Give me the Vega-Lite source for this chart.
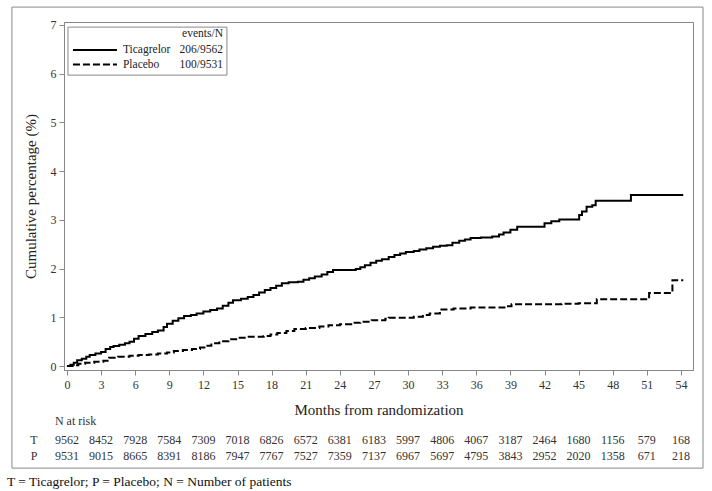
{
  "$schema": "https://vega.github.io/schema/vega-lite/v6.json",
  "width": 629,
  "height": 348,
  "autosize": {"type": "none"},
  "padding": {"left": 64, "top": 22, "right": 19, "bottom": 121},
  "background": "white",
  "config": {
    "font": "Liberation Serif, Times New Roman, serif",
    "view": {"stroke": "#888", "strokeWidth": 1},
    "text": {"font": "Liberation Serif, Times New Roman, serif"},
    "axis": {
      "grid": false,
      "domainColor": "#888",
      "tickColor": "#888",
      "tickSize": 5,
      "labelOverlap": false,
      "labelFont": "Liberation Serif, Times New Roman, serif",
      "labelFontSize": 12,
      "labelColor": "#333",
      "titleFont": "Liberation Serif, Times New Roman, serif",
      "titleFontSize": 15,
      "titleFontWeight": "normal",
      "titleColor": "#222"
    },
    "axisX": {"labelOverlap": false}
  },
  "datasets": {
    "km": [
      {"group": "Ticagrelor", "month": 0, "pct": 0},
      {"group": "Ticagrelor", "month": 0.3, "pct": 0.03},
      {"group": "Ticagrelor", "month": 0.6, "pct": 0.07},
      {"group": "Ticagrelor", "month": 0.9, "pct": 0.12},
      {"group": "Ticagrelor", "month": 1.3, "pct": 0.15},
      {"group": "Ticagrelor", "month": 1.7, "pct": 0.19},
      {"group": "Ticagrelor", "month": 2.0, "pct": 0.23},
      {"group": "Ticagrelor", "month": 2.5, "pct": 0.26},
      {"group": "Ticagrelor", "month": 3.0, "pct": 0.29},
      {"group": "Ticagrelor", "month": 3.4, "pct": 0.35},
      {"group": "Ticagrelor", "month": 3.8, "pct": 0.39},
      {"group": "Ticagrelor", "month": 4.1, "pct": 0.41},
      {"group": "Ticagrelor", "month": 4.6, "pct": 0.44},
      {"group": "Ticagrelor", "month": 5.1, "pct": 0.47},
      {"group": "Ticagrelor", "month": 5.5, "pct": 0.5},
      {"group": "Ticagrelor", "month": 5.9, "pct": 0.56},
      {"group": "Ticagrelor", "month": 6.3, "pct": 0.62},
      {"group": "Ticagrelor", "month": 6.9, "pct": 0.66},
      {"group": "Ticagrelor", "month": 7.5, "pct": 0.7},
      {"group": "Ticagrelor", "month": 8.0, "pct": 0.73},
      {"group": "Ticagrelor", "month": 8.5, "pct": 0.8},
      {"group": "Ticagrelor", "month": 8.8, "pct": 0.87},
      {"group": "Ticagrelor", "month": 9.3, "pct": 0.93},
      {"group": "Ticagrelor", "month": 9.8, "pct": 0.98},
      {"group": "Ticagrelor", "month": 10.3, "pct": 1.03},
      {"group": "Ticagrelor", "month": 10.9, "pct": 1.05},
      {"group": "Ticagrelor", "month": 11.4, "pct": 1.08},
      {"group": "Ticagrelor", "month": 12.0, "pct": 1.12},
      {"group": "Ticagrelor", "month": 12.6, "pct": 1.15},
      {"group": "Ticagrelor", "month": 13.2, "pct": 1.18},
      {"group": "Ticagrelor", "month": 13.7, "pct": 1.24},
      {"group": "Ticagrelor", "month": 14.2, "pct": 1.3},
      {"group": "Ticagrelor", "month": 14.6, "pct": 1.35},
      {"group": "Ticagrelor", "month": 15.3, "pct": 1.38},
      {"group": "Ticagrelor", "month": 15.9, "pct": 1.42},
      {"group": "Ticagrelor", "month": 16.4, "pct": 1.46},
      {"group": "Ticagrelor", "month": 16.9, "pct": 1.51},
      {"group": "Ticagrelor", "month": 17.4, "pct": 1.56},
      {"group": "Ticagrelor", "month": 17.9, "pct": 1.6},
      {"group": "Ticagrelor", "month": 18.4, "pct": 1.65},
      {"group": "Ticagrelor", "month": 18.9, "pct": 1.7},
      {"group": "Ticagrelor", "month": 19.5, "pct": 1.72},
      {"group": "Ticagrelor", "month": 20.3, "pct": 1.73},
      {"group": "Ticagrelor", "month": 20.8, "pct": 1.77},
      {"group": "Ticagrelor", "month": 21.3, "pct": 1.8},
      {"group": "Ticagrelor", "month": 21.8, "pct": 1.84},
      {"group": "Ticagrelor", "month": 22.4, "pct": 1.88},
      {"group": "Ticagrelor", "month": 22.9, "pct": 1.93},
      {"group": "Ticagrelor", "month": 23.4, "pct": 1.97},
      {"group": "Ticagrelor", "month": 25.4, "pct": 1.99},
      {"group": "Ticagrelor", "month": 25.8, "pct": 2.03},
      {"group": "Ticagrelor", "month": 26.2, "pct": 2.07},
      {"group": "Ticagrelor", "month": 26.7, "pct": 2.12},
      {"group": "Ticagrelor", "month": 27.2, "pct": 2.16},
      {"group": "Ticagrelor", "month": 27.7, "pct": 2.19},
      {"group": "Ticagrelor", "month": 28.3, "pct": 2.24},
      {"group": "Ticagrelor", "month": 28.8, "pct": 2.28},
      {"group": "Ticagrelor", "month": 29.3, "pct": 2.31},
      {"group": "Ticagrelor", "month": 29.8, "pct": 2.34},
      {"group": "Ticagrelor", "month": 30.5, "pct": 2.36},
      {"group": "Ticagrelor", "month": 31.0, "pct": 2.39},
      {"group": "Ticagrelor", "month": 31.6, "pct": 2.42},
      {"group": "Ticagrelor", "month": 32.2, "pct": 2.45},
      {"group": "Ticagrelor", "month": 32.8, "pct": 2.47},
      {"group": "Ticagrelor", "month": 33.4, "pct": 2.48},
      {"group": "Ticagrelor", "month": 33.9, "pct": 2.53},
      {"group": "Ticagrelor", "month": 34.5, "pct": 2.57},
      {"group": "Ticagrelor", "month": 35.0, "pct": 2.6},
      {"group": "Ticagrelor", "month": 35.5, "pct": 2.63},
      {"group": "Ticagrelor", "month": 36.4, "pct": 2.64},
      {"group": "Ticagrelor", "month": 37.4, "pct": 2.66},
      {"group": "Ticagrelor", "month": 38.0, "pct": 2.7},
      {"group": "Ticagrelor", "month": 38.4, "pct": 2.74},
      {"group": "Ticagrelor", "month": 39.0, "pct": 2.8},
      {"group": "Ticagrelor", "month": 39.6, "pct": 2.86},
      {"group": "Ticagrelor", "month": 42.0, "pct": 2.93},
      {"group": "Ticagrelor", "month": 42.6, "pct": 2.97},
      {"group": "Ticagrelor", "month": 43.3, "pct": 3.01},
      {"group": "Ticagrelor", "month": 45.05, "pct": 3.1},
      {"group": "Ticagrelor", "month": 45.3, "pct": 3.17},
      {"group": "Ticagrelor", "month": 45.7, "pct": 3.27},
      {"group": "Ticagrelor", "month": 46.2, "pct": 3.3},
      {"group": "Ticagrelor", "month": 46.5, "pct": 3.39},
      {"group": "Ticagrelor", "month": 49.6, "pct": 3.51},
      {"group": "Ticagrelor", "month": 54.2, "pct": 3.51},
      {"group": "Placebo", "month": 0, "pct": 0},
      {"group": "Placebo", "month": 0.5, "pct": 0.02},
      {"group": "Placebo", "month": 1.0, "pct": 0.05},
      {"group": "Placebo", "month": 1.6, "pct": 0.07},
      {"group": "Placebo", "month": 2.4, "pct": 0.09},
      {"group": "Placebo", "month": 3.2, "pct": 0.11},
      {"group": "Placebo", "month": 3.7, "pct": 0.17},
      {"group": "Placebo", "month": 4.5, "pct": 0.19},
      {"group": "Placebo", "month": 5.5, "pct": 0.21},
      {"group": "Placebo", "month": 6.3, "pct": 0.23},
      {"group": "Placebo", "month": 7.2, "pct": 0.24},
      {"group": "Placebo", "month": 8.0, "pct": 0.26},
      {"group": "Placebo", "month": 8.8, "pct": 0.28},
      {"group": "Placebo", "month": 9.4, "pct": 0.31},
      {"group": "Placebo", "month": 10.2, "pct": 0.33},
      {"group": "Placebo", "month": 11.0, "pct": 0.35},
      {"group": "Placebo", "month": 11.7, "pct": 0.38},
      {"group": "Placebo", "month": 12.2, "pct": 0.42},
      {"group": "Placebo", "month": 12.7, "pct": 0.47},
      {"group": "Placebo", "month": 13.4, "pct": 0.51},
      {"group": "Placebo", "month": 14.2, "pct": 0.55},
      {"group": "Placebo", "month": 15.0, "pct": 0.58},
      {"group": "Placebo", "month": 15.8, "pct": 0.6},
      {"group": "Placebo", "month": 17.3, "pct": 0.62},
      {"group": "Placebo", "month": 17.9, "pct": 0.65},
      {"group": "Placebo", "month": 18.5, "pct": 0.68},
      {"group": "Placebo", "month": 19.3, "pct": 0.72},
      {"group": "Placebo", "month": 20.0, "pct": 0.76},
      {"group": "Placebo", "month": 21.0, "pct": 0.78},
      {"group": "Placebo", "month": 22.2, "pct": 0.81},
      {"group": "Placebo", "month": 23.0, "pct": 0.84},
      {"group": "Placebo", "month": 24.0, "pct": 0.86},
      {"group": "Placebo", "month": 25.0, "pct": 0.89},
      {"group": "Placebo", "month": 25.8, "pct": 0.91},
      {"group": "Placebo", "month": 26.8, "pct": 0.94},
      {"group": "Placebo", "month": 28.0, "pct": 0.97},
      {"group": "Placebo", "month": 28.3, "pct": 0.99},
      {"group": "Placebo", "month": 30.5, "pct": 1.01},
      {"group": "Placebo", "month": 31.3, "pct": 1.05},
      {"group": "Placebo", "month": 31.9, "pct": 1.08},
      {"group": "Placebo", "month": 32.8, "pct": 1.16},
      {"group": "Placebo", "month": 34.0, "pct": 1.18},
      {"group": "Placebo", "month": 35.5, "pct": 1.2},
      {"group": "Placebo", "month": 38.7, "pct": 1.23},
      {"group": "Placebo", "month": 39.1, "pct": 1.27},
      {"group": "Placebo", "month": 43.5, "pct": 1.28},
      {"group": "Placebo", "month": 45.0, "pct": 1.29},
      {"group": "Placebo", "month": 46.6, "pct": 1.37},
      {"group": "Placebo", "month": 51.2, "pct": 1.5},
      {"group": "Placebo", "month": 53.25, "pct": 1.76},
      {"group": "Placebo", "month": 54.2, "pct": 1.76}
    ],
    "risk": [
      {"row": "T", "month": 0, "n": 9562}, {"row": "T", "month": 3, "n": 8452},
      {"row": "T", "month": 6, "n": 7928}, {"row": "T", "month": 9, "n": 7584},
      {"row": "T", "month": 12, "n": 7309}, {"row": "T", "month": 15, "n": 7018},
      {"row": "T", "month": 18, "n": 6826}, {"row": "T", "month": 21, "n": 6572},
      {"row": "T", "month": 24, "n": 6381}, {"row": "T", "month": 27, "n": 6183},
      {"row": "T", "month": 30, "n": 5997}, {"row": "T", "month": 33, "n": 4806},
      {"row": "T", "month": 36, "n": 4067}, {"row": "T", "month": 39, "n": 3187},
      {"row": "T", "month": 42, "n": 2464}, {"row": "T", "month": 45, "n": 1680},
      {"row": "T", "month": 48, "n": 1156}, {"row": "T", "month": 51, "n": 579},
      {"row": "T", "month": 54, "n": 168},
      {"row": "P", "month": 0, "n": 9531}, {"row": "P", "month": 3, "n": 9015},
      {"row": "P", "month": 6, "n": 8665}, {"row": "P", "month": 9, "n": 8391},
      {"row": "P", "month": 12, "n": 8186}, {"row": "P", "month": 15, "n": 7947},
      {"row": "P", "month": 18, "n": 7767}, {"row": "P", "month": 21, "n": 7527},
      {"row": "P", "month": 24, "n": 7359}, {"row": "P", "month": 27, "n": 7137},
      {"row": "P", "month": 30, "n": 6967}, {"row": "P", "month": 33, "n": 5697},
      {"row": "P", "month": 36, "n": 4795}, {"row": "P", "month": 39, "n": 3843},
      {"row": "P", "month": 42, "n": 2952}, {"row": "P", "month": 45, "n": 2020},
      {"row": "P", "month": 48, "n": 1358}, {"row": "P", "month": 51, "n": 671},
      {"row": "P", "month": 54, "n": 218}
    ]
  },
  "layer": [
    {
      "data": {"name": "km"},
      "mark": {"type": "line", "interpolate": "step-after", "color": "black", "strokeWidth": 2},
      "encoding": {
        "x": {
          "field": "month", "type": "quantitative",
          "scale": {"domain": [-0.26, 55.06], "nice": false, "zero": false},
          "axis": {"values": [0, 3, 6, 9, 12, 15, 18, 21, 24, 27, 30, 33, 36, 39, 42, 45, 48, 51, 54], "labelOverlap": false, "labelFlush": false, "title": "Months from randomization", "titlePadding": 12, "labelPadding": 4}
        },
        "y": {
          "field": "pct", "type": "quantitative",
          "scale": {"domain": [-0.08, 7.06], "nice": false, "zero": false},
          "axis": {"values": [0, 1, 2, 3, 4, 5, 6, 7], "labelOverlap": false, "title": "Cumulative percentage (%)", "titlePadding": 12, "labelPadding": 3}
        },
        "strokeDash": {
          "field": "group", "type": "nominal",
          "scale": {"domain": ["Ticagrelor", "Placebo"], "range": [[1, 0], [7, 3]]},
          "legend": null
        }
      }
    },
    {
      "data": {"values": [{"box": "outer"}]},
      "mark": {"type": "rect", "filled": false, "stroke": "#888", "strokeWidth": 1, "clip": false},
      "encoding": {
        "x": {"datum": -4.84, "type": "quantitative", "axis": {"values": [0, 3, 6, 9, 12, 15, 18, 21, 24, 27, 30, 33, 36, 39, 42, 45, 48, 51, 54], "labelOverlap": false, "labelFlush": false, "title": "Months from randomization", "titlePadding": 12, "labelPadding": 4}},
        "x2": {"datum": 55.94},
        "y": {"datum": 7.366, "type": "quantitative", "axis": {"values": [0, 1, 2, 3, 4, 5, 6, 7], "labelOverlap": false, "title": "Cumulative percentage (%)", "titlePadding": 12, "labelPadding": 3}},
        "y2": {"datum": -2.093}
      }
    },
    {
      "data": {"values": [{"box": "legend"}]},
      "mark": {"type": "rect", "fill": "white", "stroke": "#888", "strokeWidth": 1},
      "encoding": {
        "x": {"datum": 0.088, "type": "quantitative", "axis": {"values": [0, 3, 6, 9, 12, 15, 18, 21, 24, 27, 30, 33, 36, 39, 42, 45, 48, 51, 54], "labelOverlap": false, "labelFlush": false, "title": "Months from randomization", "titlePadding": 12, "labelPadding": 4}},
        "x2": {"datum": 14.07},
        "y": {"datum": 6.955, "type": "quantitative", "axis": {"values": [0, 1, 2, 3, 4, 5, 6, 7], "labelOverlap": false, "title": "Cumulative percentage (%)", "titlePadding": 12, "labelPadding": 3}},
        "y2": {"datum": 5.97}
      }
    },
    {
      "data": {"values": [{"title": "events/N"}]},
      "mark": {"type": "text", "fontSize": 11.5, "color": "#222", "align": "right", "baseline": "middle"},
      "encoding": {
        "x": {"datum": 13.72, "type": "quantitative", "axis": {"values": [0, 3, 6, 9, 12, 15, 18, 21, 24, 27, 30, 33, 36, 39, 42, 45, 48, 51, 54], "labelOverlap": false, "labelFlush": false, "title": "Months from randomization", "titlePadding": 12, "labelPadding": 4}},
        "y": {"datum": 6.812, "type": "quantitative", "axis": {"values": [0, 1, 2, 3, 4, 5, 6, 7], "labelOverlap": false, "title": "Cumulative percentage (%)", "titlePadding": 12, "labelPadding": 3}},
        "text": {"field": "title"}
      }
    },
    {
      "data": {"values": [{"group": "Ticagrelor"}]},
      "mark": {"type": "rule", "color": "black", "strokeWidth": 2},
      "encoding": {
        "x": {"datum": 0.528, "type": "quantitative", "axis": {"values": [0, 3, 6, 9, 12, 15, 18, 21, 24, 27, 30, 33, 36, 39, 42, 45, 48, 51, 54], "labelOverlap": false, "labelFlush": false, "title": "Months from randomization", "titlePadding": 12, "labelPadding": 4}},
        "x2": {"datum": 4.398},
        "y": {"datum": 6.483, "type": "quantitative", "axis": {"values": [0, 1, 2, 3, 4, 5, 6, 7], "labelOverlap": false, "title": "Cumulative percentage (%)", "titlePadding": 12, "labelPadding": 3}}
      }
    },
    {
      "data": {"values": [{"group": "Placebo"}]},
      "mark": {"type": "rule", "color": "black", "strokeWidth": 2, "strokeDash": [7, 3]},
      "encoding": {
        "x": {"datum": 0.528, "type": "quantitative", "axis": {"values": [0, 3, 6, 9, 12, 15, 18, 21, 24, 27, 30, 33, 36, 39, 42, 45, 48, 51, 54], "labelOverlap": false, "labelFlush": false, "title": "Months from randomization", "titlePadding": 12, "labelPadding": 4}},
        "x2": {"datum": 4.398},
        "y": {"datum": 6.186, "type": "quantitative", "axis": {"values": [0, 1, 2, 3, 4, 5, 6, 7], "labelOverlap": false, "title": "Cumulative percentage (%)", "titlePadding": 12, "labelPadding": 3}}
      }
    },
    {
      "data": {"values": [{"label": "Ticagrelor", "events": "206/9562"}, {"label": "Placebo", "events": "100/9531"}]},
      "transform": [{"filter": "datum.label == 'Ticagrelor'"}],
      "layer": [
        {
          "mark": {"type": "text", "fontSize": 11.5, "color": "#222", "align": "left", "baseline": "middle"},
          "encoding": {
            "x": {"datum": 4.925, "type": "quantitative", "axis": {"values": [0, 3, 6, 9, 12, 15, 18, 21, 24, 27, 30, 33, 36, 39, 42, 45, 48, 51, 54], "labelOverlap": false, "labelFlush": false, "title": "Months from randomization", "titlePadding": 12, "labelPadding": 4}},
            "y": {"datum": 6.483, "type": "quantitative", "axis": {"values": [0, 1, 2, 3, 4, 5, 6, 7], "labelOverlap": false, "title": "Cumulative percentage (%)", "titlePadding": 12, "labelPadding": 3}},
            "text": {"field": "label"}
          }
        },
        {
          "mark": {"type": "text", "fontSize": 11.5, "color": "#222", "align": "right", "baseline": "middle"},
          "encoding": {
            "x": {"datum": 13.72, "type": "quantitative", "axis": {"values": [0, 3, 6, 9, 12, 15, 18, 21, 24, 27, 30, 33, 36, 39, 42, 45, 48, 51, 54], "labelOverlap": false, "labelFlush": false, "title": "Months from randomization", "titlePadding": 12, "labelPadding": 4}},
            "y": {"datum": 6.483, "type": "quantitative", "axis": {"values": [0, 1, 2, 3, 4, 5, 6, 7], "labelOverlap": false, "title": "Cumulative percentage (%)", "titlePadding": 12, "labelPadding": 3}},
            "text": {"field": "events"}
          }
        }
      ]
    },
    {
      "data": {"values": [{"label": "Ticagrelor", "events": "206/9562"}, {"label": "Placebo", "events": "100/9531"}]},
      "transform": [{"filter": "datum.label == 'Placebo'"}],
      "layer": [
        {
          "mark": {"type": "text", "fontSize": 11.5, "color": "#222", "align": "left", "baseline": "middle"},
          "encoding": {
            "x": {"datum": 4.925, "type": "quantitative", "axis": {"values": [0, 3, 6, 9, 12, 15, 18, 21, 24, 27, 30, 33, 36, 39, 42, 45, 48, 51, 54], "labelOverlap": false, "labelFlush": false, "title": "Months from randomization", "titlePadding": 12, "labelPadding": 4}},
            "y": {"datum": 6.186, "type": "quantitative", "axis": {"values": [0, 1, 2, 3, 4, 5, 6, 7], "labelOverlap": false, "title": "Cumulative percentage (%)", "titlePadding": 12, "labelPadding": 3}},
            "text": {"field": "label"}
          }
        },
        {
          "mark": {"type": "text", "fontSize": 11.5, "color": "#222", "align": "right", "baseline": "middle"},
          "encoding": {
            "x": {"datum": 13.72, "type": "quantitative", "axis": {"values": [0, 3, 6, 9, 12, 15, 18, 21, 24, 27, 30, 33, 36, 39, 42, 45, 48, 51, 54], "labelOverlap": false, "labelFlush": false, "title": "Months from randomization", "titlePadding": 12, "labelPadding": 4}},
            "y": {"datum": 6.186, "type": "quantitative", "axis": {"values": [0, 1, 2, 3, 4, 5, 6, 7], "labelOverlap": false, "title": "Cumulative percentage (%)", "titlePadding": 12, "labelPadding": 3}},
            "text": {"field": "events"}
          }
        }
      ]
    },
    {
      "data": {"name": "risk"},
      "transform": [{"filter": "datum.row == 'T'"}],
      "mark": {"type": "text", "fontSize": 12, "color": "#333", "align": "center", "baseline": "middle"},
      "encoding": {
        "x": {"field": "month", "type": "quantitative", "axis": {"values": [0, 3, 6, 9, 12, 15, 18, 21, 24, 27, 30, 33, 36, 39, 42, 45, 48, 51, 54], "labelOverlap": false, "labelFlush": false, "title": "Months from randomization", "titlePadding": 12, "labelPadding": 4}},
        "y": {"datum": -1.51, "type": "quantitative", "axis": {"values": [0, 1, 2, 3, 4, 5, 6, 7], "labelOverlap": false, "title": "Cumulative percentage (%)", "titlePadding": 12, "labelPadding": 3}},
        "text": {"field": "n", "type": "quantitative", "format": "d"}
      }
    },
    {
      "data": {"name": "risk"},
      "transform": [{"filter": "datum.row == 'P'"}],
      "mark": {"type": "text", "fontSize": 12, "color": "#333", "align": "center", "baseline": "middle"},
      "encoding": {
        "x": {"field": "month", "type": "quantitative", "axis": {"values": [0, 3, 6, 9, 12, 15, 18, 21, 24, 27, 30, 33, 36, 39, 42, 45, 48, 51, 54], "labelOverlap": false, "labelFlush": false, "title": "Months from randomization", "titlePadding": 12, "labelPadding": 4}},
        "y": {"datum": -1.84, "type": "quantitative", "axis": {"values": [0, 1, 2, 3, 4, 5, 6, 7], "labelOverlap": false, "title": "Cumulative percentage (%)", "titlePadding": 12, "labelPadding": 3}},
        "text": {"field": "n", "type": "quantitative", "format": "d"}
      }
    },
    {
      "data": {"values": [{"label": "T"}]},
      "mark": {"type": "text", "fontSize": 12, "color": "#333", "align": "center", "baseline": "middle"},
      "encoding": {
        "x": {"datum": -2.9, "type": "quantitative", "axis": {"values": [0, 3, 6, 9, 12, 15, 18, 21, 24, 27, 30, 33, 36, 39, 42, 45, 48, 51, 54], "labelOverlap": false, "labelFlush": false, "title": "Months from randomization", "titlePadding": 12, "labelPadding": 4}},
        "y": {"datum": -1.51, "type": "quantitative", "axis": {"values": [0, 1, 2, 3, 4, 5, 6, 7], "labelOverlap": false, "title": "Cumulative percentage (%)", "titlePadding": 12, "labelPadding": 3}},
        "text": {"field": "label"}
      }
    },
    {
      "data": {"values": [{"label": "P"}]},
      "mark": {"type": "text", "fontSize": 12, "color": "#333", "align": "center", "baseline": "middle"},
      "encoding": {
        "x": {"datum": -2.9, "type": "quantitative", "axis": {"values": [0, 3, 6, 9, 12, 15, 18, 21, 24, 27, 30, 33, 36, 39, 42, 45, 48, 51, 54], "labelOverlap": false, "labelFlush": false, "title": "Months from randomization", "titlePadding": 12, "labelPadding": 4}},
        "y": {"datum": -1.84, "type": "quantitative", "axis": {"values": [0, 1, 2, 3, 4, 5, 6, 7], "labelOverlap": false, "title": "Cumulative percentage (%)", "titlePadding": 12, "labelPadding": 3}},
        "text": {"field": "label"}
      }
    },
    {
      "data": {"values": [{"label": "N at risk"}]},
      "mark": {"type": "text", "fontSize": 12, "color": "#333", "align": "left", "baseline": "middle"},
      "encoding": {
        "x": {"datum": -1.06, "type": "quantitative", "axis": {"values": [0, 3, 6, 9, 12, 15, 18, 21, 24, 27, 30, 33, 36, 39, 42, 45, 48, 51, 54], "labelOverlap": false, "labelFlush": false, "title": "Months from randomization", "titlePadding": 12, "labelPadding": 4}},
        "y": {"datum": -1.128, "type": "quantitative", "axis": {"values": [0, 1, 2, 3, 4, 5, 6, 7], "labelOverlap": false, "title": "Cumulative percentage (%)", "titlePadding": 12, "labelPadding": 3}},
        "text": {"field": "label"}
      }
    },
    {
      "data": {"values": [{"label": "T = Ticagrelor; P = Placebo; N = Number of patients"}]},
      "mark": {"type": "text", "fontSize": 13.5, "color": "#111", "align": "left", "baseline": "middle"},
      "encoding": {
        "x": {"datum": -5.28, "type": "quantitative", "axis": {"values": [0, 3, 6, 9, 12, 15, 18, 21, 24, 27, 30, 33, 36, 39, 42, 45, 48, 51, 54], "labelOverlap": false, "labelFlush": false, "title": "Months from randomization", "titlePadding": 12, "labelPadding": 4}},
        "y": {"datum": -2.38, "type": "quantitative", "axis": {"values": [0, 1, 2, 3, 4, 5, 6, 7], "labelOverlap": false, "title": "Cumulative percentage (%)", "titlePadding": 12, "labelPadding": 3}},
        "text": {"field": "label"}
      }
    }
  ]
}
